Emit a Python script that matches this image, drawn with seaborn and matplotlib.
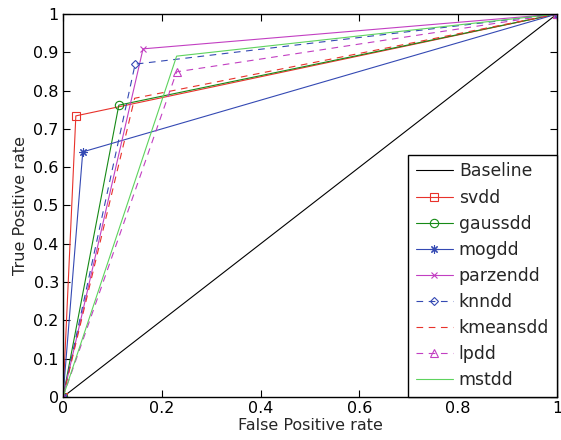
import matplotlib
matplotlib.use("Agg")
import matplotlib.pyplot as plt
import seaborn as sns
import pandas as pd
from matplotlib.ticker import FuncFormatter

sns.set_style("ticks")
plt.rcParams['font.family'] = ['DejaVu Sans']

# Data: each ROC curve goes (0,0) -> (fpr, tpr) -> (1,1)
names = ["svdd", "gaussdd", "mogdd", "parzendd", "knndd", "kmeansdd", "lpdd", "mstdd"]
fpr = [0.026, 0.113, 0.040, 0.162, 0.146, 0.145, 0.230, 0.230]
tpr = [0.734, 0.762, 0.640, 0.909, 0.869, 0.780, 0.849, 0.890]
baseline_x = [0, 1]
baseline_y = [0, 1]

colors = ["#e8322b", "#168a16", "#3449b3", "#c23fc2", "#3449b3", "#e8322b", "#c23fc2", "#5ed35e"]
markers = ["s", "o", (8, 2, 0), "x", "D", None, "^", None]
msizes = [6, 6, 6, 4.5, 4.5, 0, 5.5, 0]
styles = ["-", "-", "-", "-", (0, (6, 5)), (0, (6, 5)), (0, (6, 5)), "-"]

fig = plt.figure(figsize=(5.61, 4.40), dpi=100)
ax = fig.add_axes([63/561, 1-397/440, (557-63)/561, (397-14)/440])

sns.lineplot(x=baseline_x, y=baseline_y, ax=ax, color="black", lw=0.8,
             label="Baseline", sort=False, estimator=None)
for i, n in enumerate(names):
    df = pd.DataFrame({"x": [0, fpr[i], 1], "y": [0, tpr[i], 1]})
    kw = dict(color=colors[i], lw=0.8, linestyle=styles[i])
    if markers[i] is not None:
        kw.update(marker=markers[i], markersize=msizes[i], markerfacecolor="none",
                  markeredgecolor=colors[i], markeredgewidth=0.8)
    sns.lineplot(data=df, x="x", y="y", ax=ax, label=n, sort=False, estimator=None, **kw)

ax.set_xlim(0, 1)
ax.set_ylim(0, 1)
ax.set_xticks([0, 0.2, 0.4, 0.6, 0.8, 1])
ax.set_yticks([i / 10 for i in range(11)])
fmt = FuncFormatter(lambda v, p: "%g" % round(v, 2))
ax.xaxis.set_major_formatter(fmt)
ax.yaxis.set_major_formatter(fmt)
ax.tick_params(direction="in", length=5, width=0.8, top=True, right=True,
               labelsize=11.5, pad=3, colors="black")
for s in ax.spines.values():
    s.set_visible(True)
    s.set_linewidth(1.0)
    s.set_color("black")
ax.set_xlabel("False Positive rate", fontsize=11.5, labelpad=1)
ax.set_ylabel("True Positive rate", fontsize=11.5, labelpad=4)

leg = ax.legend(loc="lower right", borderaxespad=0, fancybox=False, framealpha=1,
                edgecolor="black", fontsize=12.4, handlelength=2.15, labelspacing=0.47,
                borderpad=0.45, handletextpad=0.35)
leg.get_frame().set_linewidth(1.0)

fig.savefig("out.png", dpi=100)
